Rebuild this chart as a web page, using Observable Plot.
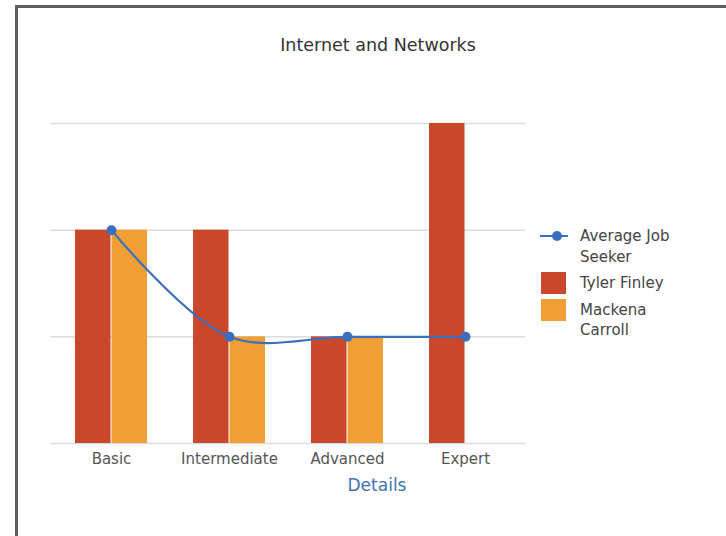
<!DOCTYPE html>
<html>
<head>
<meta charset="utf-8">
<script src="https://cdn.jsdelivr.net/npm/d3@7"></script>
<script src="https://cdn.jsdelivr.net/npm/@observablehq/plot@0.6"></script>
<style>
  html, body { margin: 0; padding: 0; background: #fff; }
  body { width: 726px; height: 536px; overflow: hidden; position: relative; font-family: "DejaVu Sans", sans-serif; }
  #frame { position: absolute; left: 15px; top: 5px; width: 800px; height: 600px; border: 3px solid #5e5e5e; box-sizing: border-box; }
  #chart { position: absolute; left: 0; top: 0; }
  #title { position: absolute; left: 0; width: 756px; top: 35px; text-align: center; font-size: 17.5px; color: #333; }
  #xlabel { position: absolute; left: 0; width: 754px; top: 475px; text-align: center; font-size: 17px; color: #3d72b4; }
  #legend { position: absolute; left: 540px; top: 226px; font-size: 15px; color: #444; line-height: 20.5px; }
  .item { position: relative; padding-left: 40px; margin-bottom: 6px; }
  .sw { position: absolute; left: 1px; top: -1px; width: 25px; height: 22px; }
  .ln { position: absolute; left: 0; top: 9px; width: 28px; height: 2px; }
  .dt { position: absolute; left: 12px; top: 5px; width: 10px; height: 10px; border-radius: 50%; }
</style>
</head>
<body>
<div id="frame"></div>
<div id="chart"></div>
<div id="title">Internet and Networks</div>
<div id="xlabel">Details</div>
<div id="legend"></div>
<script>
const categories = ["Basic", "Intermediate", "Advanced", "Expert"];
const tyler = [2, 2, 1, 3];
const mackena = [2, 1, 1, 0];
const average = [2, 1, 1, 1];
const yTicks = [0, 1, 2, 3];
const seriesNames = ["Average Job Seeker", "Tyler Finley", "Mackena Carroll"];
const colors = { line: "#3a6fc0", tyler: "#c9482b", mackena: "#ef9f33" };

const tylerData = categories.map((c, i) => ({ category: c, value: tyler[i] }));
const mackenaData = categories.map((c, i) => ({ category: c, value: mackena[i] }));
const avgData = categories.map((c, i) => ({ category: c, value: average[i] }));

const chart = Plot.plot({
  width: 726,
  height: 536,
  marginLeft: 50,
  marginRight: 201,
  marginTop: 123,
  marginBottom: 93,
  style: { fontFamily: "DejaVu Sans, sans-serif", background: "transparent" },
  x: { domain: categories, paddingInner: 0.39, paddingOuter: 0.2, label: null },
  y: { domain: [0, 3], axis: null },
  marks: [
    Plot.ruleY(yTicks, { stroke: "#dcdcdc", strokeWidth: 1.5 }),
    Plot.barY(tylerData, { x: "category", y: "value", fill: colors.tyler, insetRight: 36.5 }),
    Plot.barY(mackenaData, { x: "category", y: "value", fill: colors.mackena, insetLeft: 36.5 }),
    Plot.line(avgData, { x: "category", y: "value", stroke: colors.line, strokeWidth: 2.2, curve: "catmull-rom" }),
    Plot.dot(avgData, { x: "category", y: "value", r: 5, fill: colors.line }),
    Plot.axisX({ tickSize: 0, tickPadding: 10, fontSize: 15, color: "#555", label: null })
  ]
});
document.getElementById("chart").appendChild(chart);

const legend = document.getElementById("legend");
legend.innerHTML = `
  <div class="item"><span class="ln" style="background:${colors.line}"></span><span class="dt" style="background:${colors.line}"></span>Average Job<br>Seeker</div>
  <div class="item"><span class="sw" style="background:${colors.tyler}"></span>${seriesNames[1]}</div>
  <div class="item"><span class="sw" style="background:${colors.mackena}"></span>Mackena<br>Carroll</div>
`;
</script>
</body>
</html>
